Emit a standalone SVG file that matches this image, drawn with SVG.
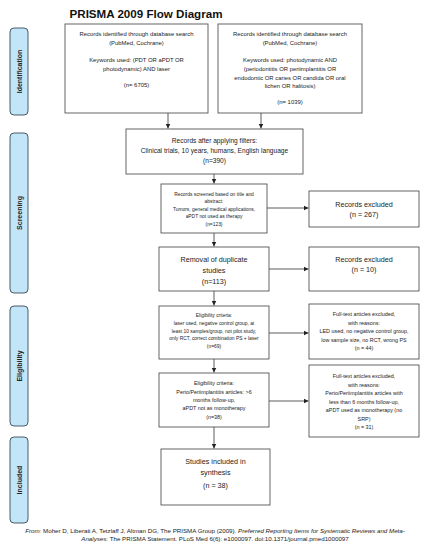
<svg xmlns="http://www.w3.org/2000/svg" width="427" height="550" viewBox="0 0 427 550">
<style>
text{font-family:"Liberation Sans",Arial,sans-serif;fill:#222;text-anchor:middle}
.box{fill:#fff;stroke:#555;stroke-width:0.9}
.side{fill:#c2e6f8;stroke:#3a4a5a;stroke-width:0.9}
.sl{font-weight:bold;font-size:7px}
.t6{font-size:5.9px}
.t5{font-size:4.9px}
.t55{font-size:5.4px}
.t7{font-size:7.2px}
.t66{font-size:6.6px}
.ft{font-size:6.2px}
.c{stroke:#333;stroke-width:0.8;fill:none}
</style>
<defs>
<marker id="ah" markerWidth="6" markerHeight="6" refX="5" refY="3" orient="auto" markerUnits="userSpaceOnUse">
<path d="M0,0.5 L5,3 L0,5.5 z" fill="#222"/>
</marker>
</defs>
<text x="146" y="18" style="font-size:11.6px;font-weight:bold;fill:#111">PRISMA 2009 Flow Diagram</text>

<g id="side-identification"><rect class="side" x="10" y="28" width="18" height="87" rx="4"/><text class="sl" transform="translate(21.5,71.5) rotate(-90)">Identification</text></g>
<g id="side-screening"><rect class="side" x="10" y="133" width="18" height="160" rx="4"/><text class="sl" transform="translate(21.5,213) rotate(-90)">Screening</text></g>
<g id="side-eligibility"><rect class="side" x="10" y="306" width="18" height="120" rx="4"/><text class="sl" transform="translate(21.5,366) rotate(-90)">Eligibility</text></g>
<g id="side-included"><rect class="side" x="10" y="437" width="18" height="86" rx="4"/><text class="sl" transform="translate(21.5,480) rotate(-90)">Included</text></g>

<g id="connectors">
<path class="c" d="M168,113 V128.5" marker-end="url(#ah)"/>
<path class="c" d="M261,113 V128.5" marker-end="url(#ah)"/>
<path class="c" d="M214,174 V183.5" marker-end="url(#ah)"/>
<path class="c" d="M267,208 H308.5" marker-end="url(#ah)"/>
<path class="c" d="M214,233 V246.5" marker-end="url(#ah)"/>
<path class="c" d="M269,269 H308.5" marker-end="url(#ah)"/>
<path class="c" d="M214,291 V305.5" marker-end="url(#ah)"/>
<path class="c" d="M269,333 H308.5" marker-end="url(#ah)"/>
<path class="c" d="M214,359 V372.5" marker-end="url(#ah)"/>
<path class="c" d="M269,401 H308.5" marker-end="url(#ah)"/>
<path class="c" d="M214,427 V448.5" marker-end="url(#ah)"/>
</g>

<g id="n1"><rect class="box" x="65" y="24" width="143" height="89"/>
<text class="t6" x="136.5" y="36">Records identified through database search</text>
<text class="t6" x="136.5" y="45">(PubMed, Cochrane)</text>
<text class="t6" x="136.5" y="62">Keywords used: (PDT OR aPDT OR</text>
<text class="t6" x="136.5" y="71">photodynamic) AND laser</text>
<text class="t6" x="136.5" y="87">(n= 6705)</text></g>

<g id="n2"><rect class="box" x="218" y="24" width="144" height="89"/>
<text class="t6" x="290" y="36">Records identified through database search</text>
<text class="t6" x="290" y="45">(PubMed, Cochrane)</text>
<text class="t6" x="290" y="62">Keywords used: photodynamic AND</text>
<text class="t6" x="290" y="71">(periodontitis OR periimplantitis OR</text>
<text class="t6" x="290" y="79.5">endodontic OR caries OR candida OR oral</text>
<text class="t6" x="290" y="88">lichen OR halitosis)</text>
<text class="t6" x="290" y="104">(n= 1039)</text></g>

<g id="n3"><rect class="box" x="126" y="129" width="177" height="45"/>
<text class="t66" x="214.5" y="143">Records after applying filters:</text>
<text class="t66" x="214.5" y="153">Clinical trials, 10 years, humans, English language</text>
<text class="t66" x="214.5" y="163">(n=390)</text></g>

<g id="n4"><rect class="box" x="161" y="184" width="106" height="49"/>
<text class="t5" x="214" y="196">Records screened based on title and</text>
<text class="t5" x="214" y="203">abstract:</text>
<text class="t5" x="214" y="211">Tumors, general medical applications,</text>
<text class="t5" x="214" y="218">aPDT not used as therapy</text>
<text class="t5" x="214" y="226">(n=123)</text></g>

<g id="x1"><rect class="box" x="309" y="191" width="110" height="36"/>
<text class="t7" x="364" y="206.5">Records excluded</text>
<text class="t7" x="364" y="217">(n = 267)</text></g>

<g id="n5"><rect class="box" x="159" y="247" width="110" height="44"/>
<text class="t7" x="214" y="261.5">Removal of duplicate</text>
<text class="t7" x="214" y="272.5">studies</text>
<text class="t7" x="214" y="283.5">(n=113)</text></g>

<g id="x2"><rect class="box" x="309" y="247" width="110" height="44"/>
<text class="t7" x="364" y="261.5">Records excluded</text>
<text class="t7" x="364" y="272">(n = 10)</text></g>

<g id="n6"><rect class="box" x="159" y="306" width="110" height="53"/>
<text class="t5" x="214" y="317">Eligibility criteria:</text>
<text class="t5" x="214" y="325">laser used, negative control group, at</text>
<text class="t5" x="214" y="333">least 10 samples/group, not pilot study,</text>
<text class="t5" x="214" y="340">only RCT, correct combination PS + laser</text>
<text class="t5" x="214" y="348">(n=69)</text></g>

<g id="x3"><rect class="box" x="309" y="304" width="110" height="55"/>
<text class="t55" x="364" y="316">Full-text articles excluded,</text>
<text class="t55" x="364" y="324.5">with reasons:</text>
<text class="t55" x="364" y="333">LED used, no negative control group,</text>
<text class="t55" x="364" y="341.5">low sample size, no RCT, wrong PS</text>
<text class="t55" x="364" y="350">(n = 44)</text></g>

<g id="n7"><rect class="box" x="159" y="373" width="110" height="54"/>
<text class="t55" x="214" y="385">Eligibility criteria:</text>
<text class="t55" x="214" y="393.5">Perio/Periimplantitis articles: &gt;6</text>
<text class="t55" x="214" y="402">months follow-up,</text>
<text class="t55" x="214" y="410">aPDT not as monotherapy</text>
<text class="t55" x="214" y="418.5">(n=38)</text></g>

<g id="x4"><rect class="box" x="309" y="365" width="110" height="72"/>
<text class="t55" x="364" y="378">Full-text articles excluded,</text>
<text class="t55" x="364" y="386.5">with reasons:</text>
<text class="t55" x="364" y="395">Perio/Periimplantitis articles with</text>
<text class="t55" x="364" y="403.5">less than 6 months follow-up,</text>
<text class="t55" x="364" y="412">aPDT used as monotherapy (no</text>
<text class="t55" x="364" y="420.5">SRP)</text>
<text class="t55" x="364" y="429">(n = 31)</text></g>

<g id="n8"><rect class="box" x="161" y="449" width="109" height="56"/>
<text class="t7" x="215.5" y="463.5">Studies included in</text>
<text class="t7" x="215.5" y="474.5">synthesis</text>
<text class="t7" x="215.5" y="488">(n = 38)</text></g>

<text class="ft" x="215" y="533"><tspan font-style="italic">From:</tspan>  Moher D, Liberati A, Tetzlaff J, Altman DG, The PRISMA Group (2009). <tspan font-style="italic">Preferred Reporting Items for Systematic Reviews and Meta-</tspan></text>
<text class="ft" x="215" y="541"><tspan font-style="italic">Analyses</tspan>: The PRISMA Statement. PLoS Med 6(6): e1000097. doi:10.1371/journal.pmed1000097</text>
</svg>
